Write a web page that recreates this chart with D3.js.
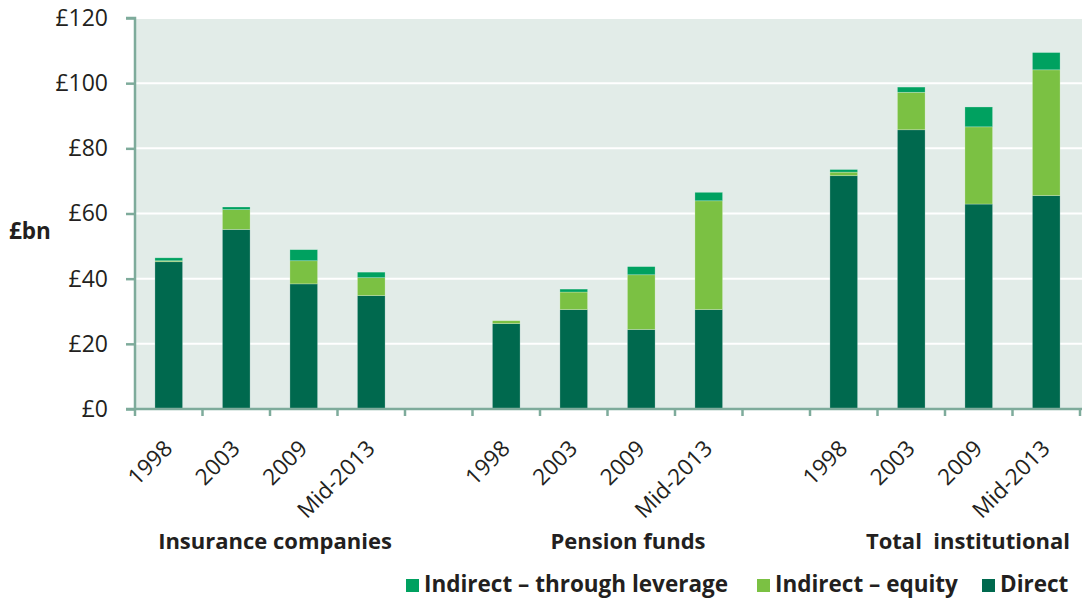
<!DOCTYPE html>
<html><head><meta charset="utf-8">
<script src="https://cdn.jsdelivr.net/npm/d3@7"></script>
<style>body{margin:0;background:#fff;} text{font-family:"Open Sans",sans-serif;fill:#231f20;}</style>
</head><body>
<svg id="c" width="1082" height="598"></svg>
<script>
const groups = ["Insurance companies", "Pension funds", "Total  institutional"];
const years = ["1998", "2003", "2009", "Mid-2013"];
const direct   = [45.2, 55.1, 38.4, 34.8,  26.2, 30.5, 24.4, 30.5,  71.6, 85.7, 62.9, 65.5];
const equity   = [0.3, 6.1, 7.1, 5.5,      0.9, 5.4, 16.8, 33.4,   1.1, 11.5, 23.7, 38.6];
const leverage = [0.9, 0.8, 3.4, 1.7,      0.0, 0.9, 2.5, 2.6,     0.8, 1.6, 6.1, 5.3];
const seriesNames = ["Direct", "Indirect – equity", "Indirect – through leverage"];
const yTicks = [0, 20, 40, 60, 80, 100, 120];

const colors = {"Direct":"#00694e","Indirect – equity":"#7bc143","Indirect – through leverage":"#00a160"};
const svg = d3.select("#c");
const L = 135, R = 1080, T = 18, B = 409;

const slots = [];
const rows = [];
groups.forEach((g, gi) => {
  years.forEach((y, yi) => {
    const k = gi + "-" + yi;
    slots.push(k);
    const i = gi * 4 + yi;
    rows.push({key: k, year: y, "Direct": direct[i], "Indirect – equity": equity[i], "Indirect – through leverage": leverage[i]});
  });
  if (gi < groups.length - 1) slots.push("gap" + gi);
});
const x = d3.scaleBand().domain(slots).range([L, R]).padding(0);
const y = d3.scaleLinear().domain([0, 120]).range([B, T]);

svg.append("rect").attr("x", L).attr("y", T).attr("width", R - L + 2).attr("height", B - T).attr("fill", "#e2ece8");
svg.append("g").selectAll("line").data(yTicks.filter(d => d > 0)).join("line")
  .attr("x1", L).attr("x2", R + 2).attr("y1", d => y(d)).attr("y2", d => y(d))
  .attr("stroke", "#fff").attr("stroke-width", 2);

const stack = d3.stack().keys(seriesNames)(rows);
const bw = x.bandwidth() * 0.41;
svg.append("g").selectAll("g").data(stack).join("g").attr("fill", d => colors[d.key])
  .selectAll("rect").data(d => d).join("rect")
  .attr("x", d => x(d.data.key) + (x.bandwidth() - bw) / 2)
  .attr("width", bw)
  .attr("y", d => y(d[1]))
  .attr("height", d => Math.max(0, y(d[0]) - y(d[1])))
  .attr("stroke", "rgba(255,255,255,0.35)").attr("stroke-width", 0.7);

const axisColor = "#7eab9b";
const ya = svg.append("g").attr("transform", `translate(${L},0)`)
  .call(d3.axisLeft(y).tickValues(yTicks).tickSize(9).tickPadding(18).tickFormat(d => "£" + d));
ya.attr("font-size", null).attr("font-family", null);
ya.select(".domain").attr("stroke", axisColor).attr("stroke-width", 2.5).attr("d", `M-9,${T}H0V${B}`);
ya.selectAll(".tick line").attr("stroke", axisColor).attr("stroke-width", 2.5);
ya.selectAll(".tick text").attr("font-size", 23).attr("fill", "#231f20");

const xa = svg.append("g").attr("transform", `translate(0,${B})`);
xa.append("line").attr("x1", L - 9).attr("x2", 1082).attr("y1", 0).attr("y2", 0)
  .attr("stroke", axisColor).attr("stroke-width", 2.5);
const tickXs = slots.map(s => x(s)).concat([R]);
xa.selectAll("line.t").data(tickXs).join("line").attr("class", "t")
  .attr("x1", d => d).attr("x2", d => d).attr("y1", 0).attr("y2", 7)
  .attr("stroke", axisColor).attr("stroke-width", 2.5);
xa.selectAll("text").data(rows).join("text")
  .attr("transform", d => `translate(${x(d.key) + x.bandwidth() / 2 + 5},${41}) rotate(-45)`)
  .attr("text-anchor", "end").attr("font-size", 22.5).text(d => d.year);

const groupCx = [275, 628, 968];
svg.append("g").selectAll("text").data(groups).join("text")
  .attr("x", (d, i) => groupCx[i]).attr("y", 549).attr("text-anchor", "middle")
  .attr("font-size", 22).attr("font-weight", "bold")
  .style("white-space", "pre").text(d => d);

svg.append("text").attr("x", 9).attr("y", 239).attr("font-size", 22.5).attr("font-weight", "bold").text("£bn");

const legendOrder = ["Indirect – through leverage", "Indirect – equity", "Direct"];
const legX = [406, 757, 982];
const lg = svg.append("g").selectAll("g").data(legendOrder).join("g")
  .attr("transform", (d, i) => `translate(${legX[i]},0)`);
lg.append("rect").attr("x", 0).attr("y", 579).attr("width", 13).attr("height", 13).attr("fill", d => colors[d]);
lg.append("text").attr("x", 18).attr("y", 592).attr("font-size", 22.5).attr("font-weight", "bold").text(d => d);
</script>
</body></html>
